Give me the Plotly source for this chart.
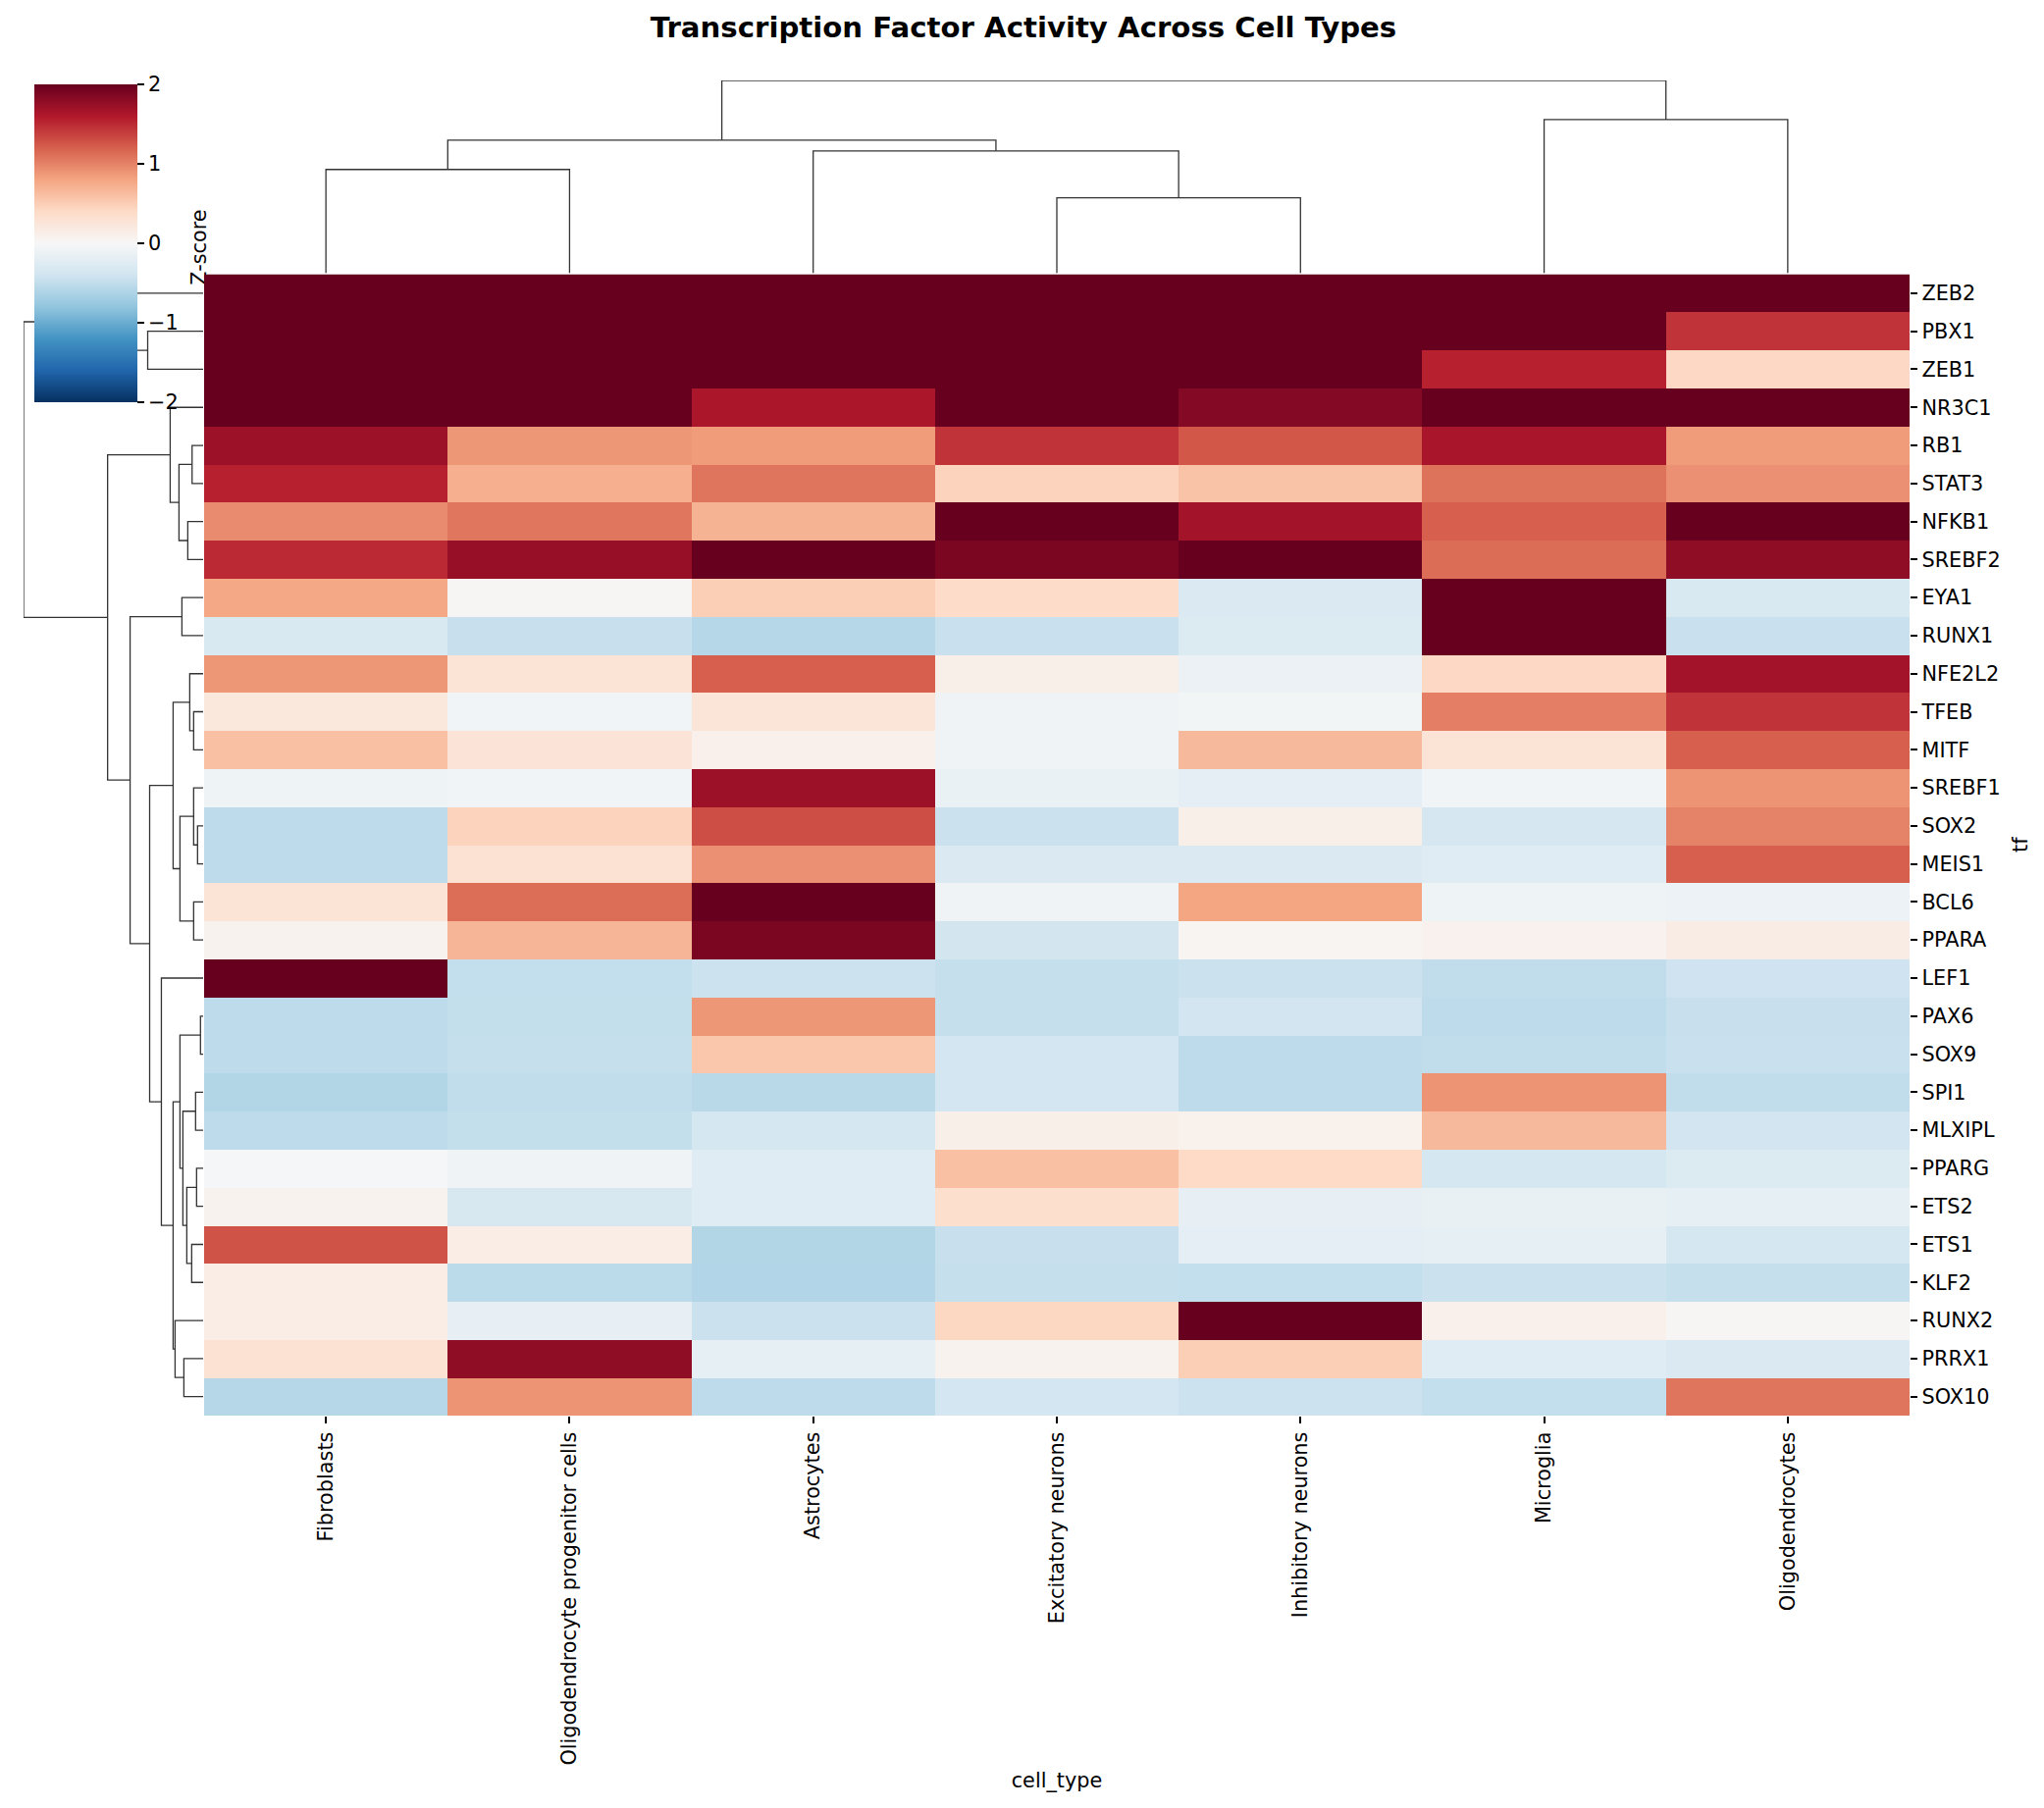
import plotly.graph_objects as go

W = 2083
H = 1843

cell_types = ["Fibroblasts", "Oligodendrocyte progenitor cells", "Astrocytes", "Excitatory neurons",
              "Inhibitory neurons", "Microglia", "Oligodendrocytes"]
tfs = ["ZEB2", "PBX1", "ZEB1", "NR3C1", "RB1", "STAT3", "NFKB1", "SREBF2", "EYA1", "RUNX1",
       "NFE2L2", "TFEB", "MITF", "SREBF1", "SOX2", "MEIS1", "BCL6", "PPARA", "LEF1", "PAX6",
       "SOX9", "SPI1", "MLXIPL", "PPARG", "ETS2", "ETS1", "KLF2", "RUNX2", "PRRX1", "SOX10"]

# z-scores, row by row (2 = clipped at the top of the scale)
zeb2 = [2, 2, 2, 2, 2, 2, 2]
pbx1 = [2, 2, 2, 2, 2, 2, 1.45]
zeb1 = [2, 2, 2, 2, 2, 1.55, 0.42]
nr3c1 = [2, 2, 1.63, 2, 1.85, 2, 2]
rb1 = [1.72, 0.88, 0.85, 1.45, 1.25, 1.65, 0.85]
stat3 = [1.55, 0.72, 1.08, 0.45, 0.58, 1.09, 0.92]
nfkb1 = [0.95, 1.07, 0.7, 2, 1.68, 1.2, 2]
srebf2 = [1.5, 1.75, 2, 1.9, 2, 1.13, 1.78]
eya1 = [0.78, 0.03, 0.5, 0.38, -0.3, 2, -0.32]
runx1 = [-0.32, -0.46, -0.57, -0.45, -0.28, 2, -0.45]
nfe2l2 = [0.88, 0.28, 1.2, 0.12, -0.13, 0.42, 1.68]
tfeb = [0.22, -0.07, 0.26, -0.08, -0.05, 1.02, 1.45]
mitf = [0.6, 0.27, 0.1, -0.08, 0.65, 0.28, 1.2]
srebf1 = [-0.1, -0.06, 1.72, -0.14, -0.2, -0.07, 0.9]
sox2 = [-0.52, 0.45, 1.3, -0.44, 0.12, -0.35, 1.0]
meis1 = [-0.52, 0.3, 0.92, -0.3, -0.3, -0.25, 1.2]
bcl6 = [0.28, 1.12, 2, -0.08, 0.8, -0.1, -0.12]
ppara = [0.07, 0.68, 1.9, -0.38, 0.05, 0.08, 0.16]
lef1 = [2, -0.49, -0.43, -0.47, -0.44, -0.5, -0.41]
pax6 = [-0.52, -0.48, 0.88, -0.47, -0.39, -0.52, -0.46]
sox9 = [-0.52, -0.47, 0.55, -0.37, -0.52, -0.5, -0.45]
spi1 = [-0.59, -0.5, -0.55, -0.37, -0.52, 0.9, -0.5]
mlxipl = [-0.52, -0.48, -0.36, 0.12, 0.09, 0.65, -0.39]
pparg = [-0.02, -0.08, -0.25, 0.6, 0.4, -0.36, -0.28]
ets2 = [0.07, -0.34, -0.25, 0.35, -0.17, -0.15, -0.18]
ets1 = [1.27, 0.14, -0.59, -0.46, -0.2, -0.18, -0.36]
klf2 = [0.15, -0.54, -0.6, -0.47, -0.49, -0.44, -0.47]
runx2 = [0.14, -0.17, -0.44, 0.43, 2, 0.1, 0.03]
prrx1 = [0.3, 1.78, -0.18, 0.07, 0.5, -0.25, -0.31]
sox10 = [-0.57, 0.9, -0.52, -0.37, -0.43, -0.49, 1.08]

z = [zeb2, pbx1, zeb1, nr3c1, rb1, stat3, nfkb1, srebf2, eya1, runx1,
     nfe2l2, tfeb, mitf, srebf1, sox2, meis1, bcl6, ppara, lef1, pax6,
     sox9, spi1, mlxipl, pparg, ets2, ets1, klf2, runx2, prrx1, sox10]

# cluster merges: child a, child b, height. leaves first, new nodes numbered after them
col_link_a = [0, 3, 2, 7, 5, 10]
col_link_b = [1, 4, 8, 9, 6, 11]
col_link_h = [106, 77, 125, 136, 157, 197]

row_link_a = [1, 0, 4, 6, 32, 3, 8, 11, 10, 14, 13, 16, 40, 38, 19, 21, 23, 25, 46, 45, 44, 28, 27, 50, 18, 43, 36, 35, 31]
row_link_b = [2, 30, 5, 7, 33, 34, 9, 12, 37, 15, 39, 17, 41, 42, 20, 22, 24, 26, 47, 48, 49, 29, 51, 52, 53, 54, 55, 56, 57]
row_link_h = [56.7, 141, 11.3, 15.7, 24.7, 33.7, 21.7, 9.7, 13.7, 5.7, 9.7, 9.7, 23.7, 30.7,
              2.7, 7.7, 6.7, 11.7, 16.7, 20.7, 23.7, 19.7, 28.7, 30.7, 42.7, 54.7, 74.7, 97.7, 183.7]


def link_paths(link_a, link_b, link_h, n_leaves):
    pos = list(range(n_leaves))
    hgt = [0] * n_leaves
    along, up = [], []
    for a, b, h in zip(link_a, link_b, link_h):
        along += [pos[a], pos[a], pos[b], pos[b], None]
        up += [hgt[a], h, h, hgt[b], None]
        pos.append((pos[a] + pos[b]) / 2)
        hgt.append(h)
    return along, up


def px_x(p):
    return p / W


def px_y(p):
    return 1 - p / H


heat_l, heat_r, heat_t, heat_b = 208, 1946, 279.5, 1443
font = "DejaVu Sans"
tick_size = 20.8
tick_len = 7.3
tick_w = 1.6
dendro_color = "#333333"

fig = go.Figure()

fig.add_trace(go.Heatmap(
    z=z, x=cell_types, y=tfs, zmin=-2, zmax=2, colorscale="RdBu_r", hoverongaps=False,
    colorbar=dict(
        x=px_x(35), xanchor="left", xpad=0, y=px_y(86), yanchor="top", ypad=0,
        lenmode="pixels", len=324, thicknessmode="pixels", thickness=105,
        outlinewidth=0, tickmode="array", tickvals=[-2, -1, 0, 1, 2],
        ticks="outside", ticklen=tick_len, tickwidth=tick_w, tickcolor="black",
        tickfont=dict(family=font, size=tick_size, color="black"),
    ),
))

col_x, col_y = link_paths(col_link_a, col_link_b, col_link_h, len(cell_types))
fig.add_trace(go.Scatter(x=col_x, y=col_y, mode="lines", xaxis="x2", yaxis="y2", showlegend=False,
                         line=dict(color=dendro_color, width=1.3), cliponaxis=False, hoverinfo="skip"))

row_y, row_x = link_paths(row_link_a, row_link_b, row_link_h, len(tfs))
fig.add_trace(go.Scatter(x=row_x, y=row_y, mode="lines", xaxis="x3", yaxis="y3", showlegend=False,
                         line=dict(color=dendro_color, width=1.3), cliponaxis=False, hoverinfo="skip"))

hidden = dict(visible=False, showgrid=False, zeroline=False)

fig.update_layout(
    width=W, height=H, autosize=False,
    margin=dict(l=0, r=0, t=0, b=0),
    paper_bgcolor="white", plot_bgcolor="rgba(0,0,0,0)",
    font=dict(family=font, color="black"),
    title=dict(text="<b>Transcription Factor Activity Across Cell Types</b>",
               x=px_x(1043), xanchor="center", y=px_y(28), yanchor="middle",
               font=dict(family=font, size=29.2, color="black")),
    xaxis=dict(domain=[px_x(heat_l), px_x(heat_r)], anchor="y", side="bottom",
               range=[-0.5, 6.5], tickangle=-90, ticks="outside", ticklen=tick_len, tickwidth=tick_w,
               tickcolor="black", showgrid=False, zeroline=False, showline=False,
               tickmode="array", tickvals=cell_types, ticktext=cell_types,
               tickfont=dict(family=font, size=tick_size, color="black"),
               title=dict(text="cell_type", standoff=8, font=dict(family=font, size=tick_size, color="black"))),
    yaxis=dict(domain=[px_y(heat_b), px_y(heat_t)], anchor="x", side="right",
               range=[29.5, -0.5], ticks="outside", ticklen=tick_len, tickwidth=tick_w,
               tickcolor="black", showgrid=False, zeroline=False, showline=False,
               tickmode="array", tickvals=tfs, ticktext=tfs,
               tickfont=dict(family=font, size=tick_size, color="black"),
               title=dict(text="tf", standoff=13, font=dict(family=font, size=tick_size, color="black"))),
    xaxis2=dict(domain=[px_x(heat_l), px_x(heat_r)], anchor="y2", range=[-0.5, 6.5], **hidden),
    yaxis2=dict(domain=[px_y(heat_t - 1), px_y(82)], anchor="x2", range=[0, 197], **hidden),
    xaxis3=dict(domain=[px_x(24), px_x(heat_l - 1)], anchor="y3", range=[183.7, 0], **hidden),
    yaxis3=dict(domain=[px_y(heat_b), px_y(heat_t)], anchor="x3", range=[29.5, -0.5], **hidden),
)

# colorbar label sits under the heatmap, the Z is partly cut off in the original
fig.add_shape(type="rect", xref="paper", yref="paper", layer="below",
              x0=px_x(192), x1=px_x(210), y0=px_y(292), y1=px_y(212),
              line=dict(width=0), fillcolor="rgba(0,0,0,0)",
              label=dict(text="Z-score", textangle=-90, textposition="middle center",
                         font=dict(family=font, size=tick_size, color="black")))

fig.write_html("out.html", config=dict(displayModeBar=False),
               post_script="document.body.style.margin='0';")
